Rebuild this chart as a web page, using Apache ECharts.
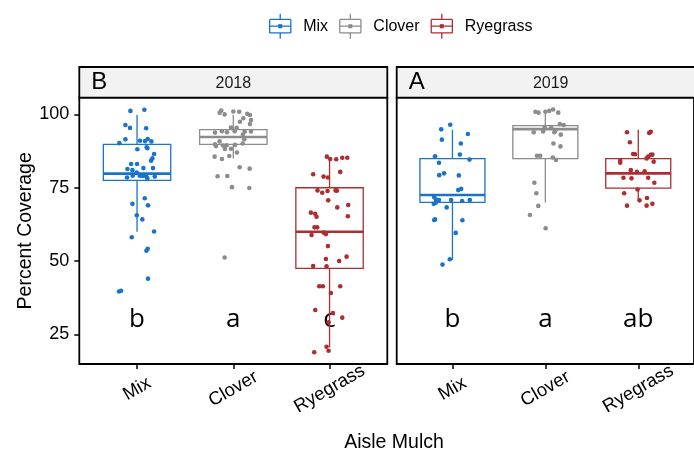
<!DOCTYPE html>
<html>
<head>
<meta charset="utf-8">
<script src="https://cdn.jsdelivr.net/npm/echarts@6/dist/echarts.min.js"></script>
<style>html,body{margin:0;padding:0;background:#fff}#c{width:694px;height:453px}</style>
</head>
<body>
<div id="c"></div>
<script>
// ---- data ----
const categories = ['Mix', 'Clover', 'Ryegrass'];
const years = ['2018', '2019'];
const panelTags = ['B', 'A'];
const yTicks = [25, 50, 75, 100];
const letters2018 = ['b', 'a', 'c'];
const letters2019 = ['b', 'a', 'ab'];

// box stats: [lower whisker, Q1, median, Q3, upper whisker]
const boxMix2018 = [60.0, 77.5, 79.8, 89.8, 99.8];
const boxClover2018 = [85.0, 89.8, 92.3, 94.8, 99.8];
const boxRyegrass2018 = [20.6, 47.5, 60.0, 75.0, 84.5];
const boxMix2019 = [50.4, 70.0, 72.5, 84.9, 94.8];
const boxClover2019 = [70.0, 84.9, 95.0, 96.2, 100.4];
const boxRyegrass2019 = [70.8, 74.9, 79.9, 84.9, 94.8];

// jittered observations: [jitter offset (category units), percent coverage]
const ptsMix2018 = [[-0.069,101.2],[0.076,101.6],[-0.121,96.4],[-0.073,95.4],[0.094,95.3],[-0.121,91.5],[-0.184,90.2],[0.031,91.0],[0.083,90.9],[0.111,91.6],[0.149,90.8],[0.100,88.8],[0.107,88.5],[0.003,88.1],[0.177,86.5],[0.159,85.0],[0.145,84.2],[-0.062,83.1],[0.0,83.1],[0.066,81.7],[-0.100,81.4],[0.166,81.7],[-0.048,81.0],[-0.003,80.2],[-0.104,78.5],[-0.045,79.1],[0.028,79.1],[0.059,79.0],[0.094,78.9],[0.107,78.2],[0.184,78.8],[0.080,71.4],[-0.048,69.5],[0.114,69.0],[-0.003,65.6],[0.055,64.2],[-0.055,58.1],[0.177,60.1],[0.111,54.2],[0.097,53.5],[0.114,44.0],[-0.187,39.6],[-0.166,39.9]];
const ptsClover2018 = [[-0.142,100.6],[-0.125,101.3],[-0.090,100.0],[0,101.0],[0.062,100.9],[0.145,100.2],[0.173,99.8],[0.104,98.7],[0.069,97.5],[0.184,98.1],[0.173,96.7],[-0.024,95.5],[0.035,95.4],[-0.118,94.3],[-0.190,93.8],[0.014,94.3],[0.118,94.1],[0.184,94.2],[-0.066,93.9],[0.100,93.1],[0.114,91.5],[-0.142,90.8],[-0.190,89.8],[-0.107,89.4],[-0.069,89.5],[0.017,89.6],[0.097,90.1],[-0.180,89.2],[-0.087,88.2],[-0.024,88.3],[0.038,87.0],[-0.118,84.8],[-0.194,85.6],[-0.042,85.8],[0.066,82.0],[0.170,81.5],[-0.163,78.9],[-0.062,79.0],[-0.014,75.2],[0.166,74.9],[-0.090,51.2]];
const ptsRyegrass2018 = [[-0.028,85.6],[0.007,84.8],[0.069,84.7],[0.132,85.2],[0.184,85.2],[-0.170,79.6],[-0.062,78.8],[-0.017,78.5],[0.111,80.4],[-0.125,74.1],[-0.076,73.3],[-0.021,73.9],[0.062,74.1],[0.076,74.0],[-0.014,70.7],[0.080,68.3],[0.194,69.1],[-0.194,66.5],[-0.149,66.1],[-0.135,65.1],[0.190,65.3],[-0.156,61.5],[-0.128,61.5],[-0.187,58.9],[-0.062,59.7],[-0.038,59.2],[-0.017,55.1],[0.177,51.5],[-0.038,50.7],[0.100,50.0],[-0.170,48.3],[-0.031,48.2],[-0.107,41.4],[-0.069,41.4],[0.111,41.4],[0.014,39.1],[-0.149,33.3],[0.035,32.3],[0.132,30.7],[-0.010,29.1],[-0.031,20.8],[-0.010,19.4],[-0.159,18.9]];
const ptsMix2019 = [[-0.121,94.9],[-0.024,96.5],[0.166,93.3],[-0.114,91.4],[0.090,90.1],[-0.187,85.7],[0.080,86.3],[0.184,84.6],[-0.145,83.5],[-0.142,79.3],[-0.090,79.9],[0.069,79.2],[0.062,74.2],[0.094,74.6],[-0.197,71.8],[-0.177,71.0],[-0.145,70.8],[-0.014,70.8],[0.104,70.5],[0.187,70.8],[-0.201,69.5],[-0.180,69.9],[-0.062,68.3],[-0.187,64.2],[-0.197,64.0],[0.107,63.9],[0.035,59.6],[-0.028,50.6],[-0.107,48.8]];
const ptsClover2019 = [[-0.107,100.9],[-0.073,100.6],[0,100.9],[0.042,101.2],[0.083,101.7],[0.139,100.6],[0.156,96.7],[0.197,96.4],[-0.007,95.7],[0.062,95.5],[0.107,94.6],[-0.125,93.9],[-0.024,94.2],[0.097,93.9],[0.166,93.1],[0.087,90.1],[0.163,89.1],[-0.090,85.9],[-0.055,85.9],[0.080,85.3],[0.114,84.5],[-0.118,76.7],[-0.097,73.1],[-0.076,68.8],[-0.166,65.7],[0.003,61.2]];
const ptsRyegrass2019 = [[-0.121,93.9],[0.118,93.7],[0.135,94.1],[-0.090,90.5],[-0.055,86.5],[-0.035,86.4],[0.107,85.6],[0.135,86.2],[0.152,86.3],[0.090,85.0],[-0.194,84.2],[-0.194,83.5],[0.166,83.9],[-0.080,81.0],[-0.014,80.4],[0.069,80.6],[-0.159,78.4],[-0.073,78.2],[0.107,78.4],[0.173,76.7],[-0.152,73.1],[-0.007,74.4],[0.014,70.7],[0.094,71.5],[-0.121,68.9],[0.090,68.9],[0.152,69.5]];

// ---- styling ----
const colors = { Mix: '#1874C8', Clover: '#8C8C8C', Ryegrass: '#AD2E31' };
const FONT = '"Liberation Sans", Arial, Helvetica, sans-serif';
const yMin = 14.9, yMax = 105.7;
const panelLeft = [79.3, 396.7];
const panelTop = 97.7, panelW = 308, panelH = 266.3, stripTop = 67;
const letterY = 30;

const panels = [
  { year: years[0], tag: panelTags[0], letters: letters2018,
    boxes: { Mix: boxMix2018, Clover: boxClover2018, Ryegrass: boxRyegrass2018 },
    pts: { Mix: ptsMix2018, Clover: ptsClover2018, Ryegrass: ptsRyegrass2018 } },
  { year: years[1], tag: panelTags[1], letters: letters2019,
    boxes: { Mix: boxMix2019, Clover: boxClover2019, Ryegrass: boxRyegrass2019 },
    pts: { Mix: ptsMix2019, Clover: ptsClover2019, Ryegrass: ptsRyegrass2019 } }
];

function renderBox(params, api) {
  const x = api.value(0);
  const pMin = api.coord([x, api.value(1)]);
  const pQ1 = api.coord([x, api.value(2)]);
  const pMed = api.coord([x, api.value(3)]);
  const pQ3 = api.coord([x, api.value(4)]);
  const pMax = api.coord([x, api.value(5)]);
  const half = api.size([0.35, 0])[0];
  const c = api.visual('color');
  const lw = 1.3;
  return {
    type: 'group',
    children: [
      { type: 'line', shape: { x1: pQ3[0], y1: pQ3[1], x2: pMax[0], y2: pMax[1] }, style: { stroke: c, lineWidth: lw } },
      { type: 'line', shape: { x1: pQ1[0], y1: pQ1[1], x2: pMin[0], y2: pMin[1] }, style: { stroke: c, lineWidth: lw } },
      { type: 'rect', shape: { x: pQ3[0] - half, y: pQ3[1], width: half * 2, height: pQ1[1] - pQ3[1] }, style: { fill: '#fff', stroke: c, lineWidth: lw } },
      { type: 'line', shape: { x1: pMed[0] - half, y1: pMed[1], x2: pMed[0] + half, y2: pMed[1] }, style: { stroke: c, lineWidth: 2.6 } }
    ]
  };
}

function makeLetterRenderer(letters) {
  return function (params, api) {
    const p = api.coord([api.value(0), api.value(1)]);
    return { type: 'text', x: p[0], y: p[1],
      style: { text: letters[params.dataIndex], fill: '#000',
        font: '26px "Open Sans", sans-serif', textAlign: 'center', textVerticalAlign: 'middle' } };
  };
}

const grids = [], xAxes = [], yAxes = [], series = [], graphics = [];
panels.forEach((p, i) => {
  grids.push({ left: panelLeft[i], top: panelTop, width: panelW, height: panelH,
    show: true, borderColor: '#000', borderWidth: 1.8, backgroundColor: '#fff', z: 1 });
  xAxes.push({ type: 'value', gridIndex: i, min: 0.4, max: 3.6,
    splitLine: { show: false }, axisLine: { show: false },
    axisTick: { show: true, customValues: [1, 2, 3], length: 5, lineStyle: { color: '#000', width: 1.5 } },
    axisLabel: { customValues: [1, 2, 3], formatter: v => categories[Math.round(v) - 1],
      rotate: 30, align: 'center', verticalAlign: 'middle', margin: 25,
      fontSize: 18.5, color: '#000', fontFamily: FONT } });
  yAxes.push({ type: 'value', gridIndex: i, min: yMin, max: yMax,
    splitLine: { show: false }, axisLine: { show: false },
    axisTick: { show: i === 0, customValues: yTicks, length: 5, lineStyle: { color: '#000', width: 1.5 } },
    axisLabel: { show: i === 0, customValues: yTicks, fontSize: 18, color: '#000', margin: 10, fontFamily: FONT },
    name: i === 0 ? 'Percent Coverage' : '', nameLocation: 'middle', nameGap: 44, nameRotate: 90,
    nameTextStyle: { fontSize: 19.5, color: '#000', fontFamily: FONT } });

  categories.forEach((cat, k) => {
    const b = p.boxes[cat];
    series.push({ type: 'custom', name: cat, xAxisIndex: i, yAxisIndex: i, z: 2,
      itemStyle: { color: colors[cat] }, renderItem: renderBox, clip: false,
      data: [[k + 1, b[0], b[1], b[2], b[3], b[4]]], silent: true });
  });
  categories.forEach((cat, k) => {
    series.push({ type: 'scatter', name: cat, xAxisIndex: i, yAxisIndex: i, z: 3,
      symbolSize: 4.6, itemStyle: { color: colors[cat], opacity: 1 },
      data: p.pts[cat].map(d => [k + 1 + d[0], d[1]]), silent: true });
  });
  series.push({ type: 'custom', xAxisIndex: i, yAxisIndex: i, z: 1.5, silent: true,
    renderItem: makeLetterRenderer(p.letters),
    data: p.letters.map((l, k) => [k + 1, letterY]) });

  // facet strip
  graphics.push({ type: 'rect', z: 10, shape: { x: panelLeft[i], y: stripTop, width: panelW, height: panelTop - stripTop },
    style: { fill: '#F2F2F2', stroke: '#000', lineWidth: 1.8 } });
  graphics.push({ type: 'text', z: 11, x: panelLeft[i] + panelW / 2, y: (stripTop + panelTop) / 2 + 1,
    style: { text: p.year, fill: '#1a1a1a', font: '16px ' + FONT, textAlign: 'center', textVerticalAlign: 'middle' } });
  graphics.push({ type: 'text', z: 11, x: panelLeft[i] + 12, y: (stripTop + panelTop) / 2 + 0,
    style: { text: p.tag, fill: '#000', font: '24px ' + FONT, textAlign: 'left', textVerticalAlign: 'middle' } });
});

graphics.push({ type: 'text', x: 394, y: 443, style: { text: 'Aisle Mulch', fill: '#000', font: '19.5px ' + FONT, textAlign: 'center', textVerticalAlign: 'middle' } });

const legendIcon = 'path://M12,0V6M1,6H23M23,6V20M23,20H1M1,20V6M1,13H23M12,20V26M10.6,11.6H13.4V14.4H10.6Z';
const chart = echarts.init(document.getElementById('c'), null, { renderer: 'canvas' });
chart.setOption({
  animation: false,
  legend: { left: 264, top: 8, itemWidth: 22, itemHeight: 25, itemGap: 11,
    textStyle: { fontSize: 16, color: '#000', fontFamily: FONT, padding: [0, 0, 0, 7] },
    data: categories.map(c => ({ name: c, icon: legendIcon,
      itemStyle: { color: colors[c], borderColor: colors[c], borderWidth: 1.3 } })) },
  grid: grids, xAxis: xAxes, yAxis: yAxes, series: series, graphic: graphics
});
</script>
</body>
</html>
